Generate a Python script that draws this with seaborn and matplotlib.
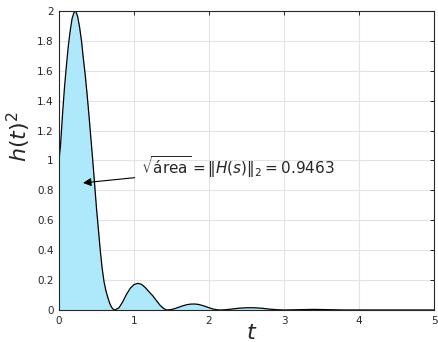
import numpy as np
import pandas as pd
import matplotlib
matplotlib.use('Agg')
import matplotlib.pyplot as plt
import seaborn as sns

# values: t and h(t)^2
t_vals = [0.0, 0.02, 0.05, 0.075, 0.1, 0.125, 0.15, 0.175, 0.2, 0.215, 0.23, 0.25,
          0.275, 0.3, 0.325, 0.35, 0.375, 0.4, 0.425, 0.45, 0.475, 0.5, 0.525, 0.55,
          0.575, 0.6, 0.625, 0.65, 0.675, 0.7, 0.725, 0.745,
          0.8, 0.85, 0.9, 0.95, 1.0, 1.05, 1.1, 1.15, 1.2, 1.25, 1.3, 1.35, 1.4, 1.44,
          1.5, 1.55, 1.6, 1.65, 1.7, 1.75, 1.8, 1.85, 1.9, 1.95, 2.0, 2.05, 2.1, 2.15,
          2.2, 2.3, 2.4, 2.5, 2.6, 2.7, 2.8, 2.9, 3.0, 3.2, 3.4, 3.6, 3.8, 4.0, 4.5, 5.0]
h2_vals = [1.0, 1.10, 1.33, 1.50, 1.64, 1.77, 1.87, 1.95, 1.99, 2.0, 1.99, 1.96,
           1.89, 1.80, 1.68, 1.57, 1.44, 1.30, 1.15, 1.00, 0.84, 0.68, 0.54, 0.40,
           0.28, 0.19, 0.13, 0.085, 0.046, 0.019, 0.004, 0.0,
           0.015, 0.055, 0.105, 0.145, 0.17, 0.178, 0.172, 0.15, 0.122, 0.095, 0.062, 0.03, 0.008, 0.0,
           0.003, 0.01, 0.019, 0.028, 0.035, 0.039, 0.04, 0.038, 0.032, 0.024, 0.015, 0.007, 0.002, 0.0,
           0.001, 0.006, 0.012, 0.015, 0.015, 0.012, 0.006, 0.002, 0.0, 0.002, 0.004, 0.002, 0.0, 0.0, 0.0, 0.0]
x_ticks = [0, 1, 2, 3, 4, 5]
y_ticks = [0, 0.2, 0.4, 0.6, 0.8, 1, 1.2, 1.4, 1.6, 1.8, 2]
norm_text = r'$\sqrt{\mathrm{área}} = \|H(s)\|_2 = 0.9463$'

df = pd.DataFrame({'t': t_vals, 'h2': h2_vals})

sns.set_theme(style='white')
plt.rcParams['font.family'] = ['DejaVu Sans']
plt.rcParams['mathtext.fontset'] = 'dejavusans'

fig = plt.figure(figsize=(4.38, 3.42), dpi=100)
ax = fig.add_axes([0.1347, 0.0936, 0.8563, 0.8743])

ax.fill_between(df['t'], df['h2'], 0, color='#aee9fb', linewidth=0)
sns.lineplot(x='t', y='h2', data=df, color='black', linewidth=0.9, ax=ax)

ax.set_xlim(0, 5)
ax.set_ylim(0, 2)
ax.set_xticks(x_ticks)
ax.set_yticks(y_ticks)
ax.set_xticklabels([f'{v:g}' for v in x_ticks])
ax.set_yticklabels([f'{v:g}' for v in y_ticks])
ax.grid(True, color='#e3e3e3', linewidth=0.8)
ax.set_axisbelow(True)

ax.tick_params(direction='in', length=3, width=0.7, colors='#262626',
               labelsize=7.5, top=True, right=True, pad=4)
ax.tick_params(axis='both', labelcolor='#262626')
for s in ax.spines.values():
    s.set_color('#262626')
    s.set_linewidth(0.8)
    s.set_visible(True)

ax.set_xlabel(r'$t$', fontsize=16)
ax.set_ylabel(r'$h(t)^2$', fontsize=16)
ax.xaxis.set_label_coords(0.515, -0.045)
ax.yaxis.set_label_coords(-0.068, 0.58)

ax.annotate(norm_text, xy=(0.32, 0.85), xytext=(1.09, 0.955),
            fontsize=11, va='center', ha='left',
            arrowprops=dict(arrowstyle='-|>', color='black', lw=0.8,
                            mutation_scale=12, shrinkA=2, shrinkB=0))

plt.savefig('out.png', dpi=100)
